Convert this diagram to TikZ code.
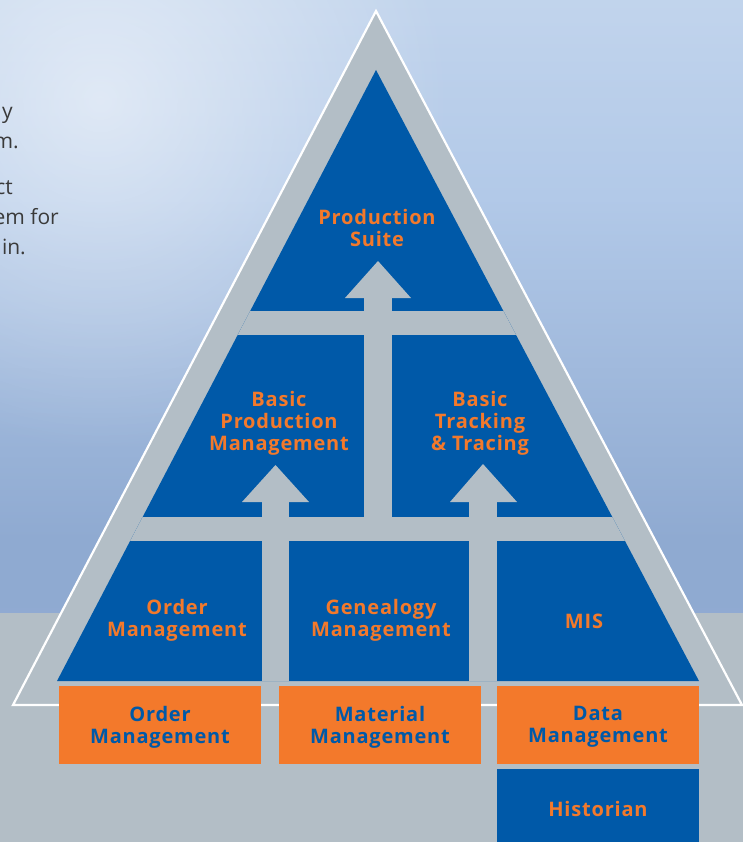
\documentclass[tikz,border=0pt]{standalone}
\usepackage{fontspec}
\setmainfont{Open Sans}
\newfontfamily\lblfont[LetterSpace=4]{Open Sans}
\usetikzlibrary{fadings}
\definecolor{tblue}{HTML}{0059A8}
\definecolor{torange}{HTML}{F3792B}
\definecolor{tgrey}{HTML}{B3BEC6}
\definecolor{ttext}{HTML}{3A3A3A}
\definecolor{skyA}{HTML}{D9E5F3}
\definecolor{skyB}{HTML}{B2C9E8}
\definecolor{skyC}{HTML}{8FAAD1}
\definecolor{skyD}{HTML}{91ABD3}
\definecolor{skyE}{HTML}{A6C0E2}
\pgfdeclareverticalshading{skyshade}{100bp}{color(0bp)=(skyE); color(9bp)=(skyD); color(31bp)=(skyC); color(59bp)=(skyB); color(100bp)=(skyA)}
\tikzfading[name=glow, inner color=transparent!45, outer color=transparent!100]
\tikzset{
  lblfnt/.style={font=\lblfont\bfseries\fontsize{20}{22}\selectfont},
  tierlbl/.style={lblfnt, text=torange, align=center, inner sep=0pt},
  boxtxt/.style={lblfnt, text=tblue, align=center, inner sep=0pt},
  obox/.style={fill=torange, minimum width=202pt, minimum height=78pt, inner sep=0pt},
  histbox/.style={lblfnt, fill=tblue, text=torange, align=center, minimum width=202pt, minimum height=80pt, inner sep=0pt},
  sidetxt/.style={text=ttext, font=\fontsize{21}{30}\selectfont, inner sep=0pt, anchor=base east}
}
\begin{document}
\begin{tikzpicture}[x=1pt,y=-1pt]
\useasboundingbox (0,0) rectangle (743,842);
\begin{scope}
\clip (0,0) rectangle (743,842);
% sky
\shade[shading=skyshade] (0,0) rectangle (743,613);
\fill[white, path fading=glow] (-250,-250) rectangle (450,450);
% ground
\fill[tgrey] (0,613) rectangle (743,842);
% side text fragments
\node[sidetxt] (t1) at (13,119) {y};
\node[sidetxt] (t2) at (19,149) {m.};
\node[sidetxt] (t3) at (13,195) {ct};
\node[sidetxt] (t4) at (59,225) {em for};
\node[sidetxt] (t5) at (26,254) {in.};
% outer triangle
\filldraw[fill=tgrey, draw=white, line width=2.2pt, line join=miter] (376,11) -- (742,705) -- (13,705) -- cycle;
% inner triangle
\fill[tblue] (376,70) -- (699,681) -- (57,681) -- cycle;
\begin{scope}
\clip (376,70) -- (699,681) -- (57,681) -- cycle;
\fill[tgrey] (0,311) rectangle (743,335);
\fill[tgrey] (0,517) rectangle (743,541);
\fill[tgrey] (364,298) rectangle (392,541);
\fill[tgrey] (262,502) rectangle (289,700);
\fill[tgrey] (469,502) rectangle (497,700);
\end{scope}
% arrow heads
\fill[tgrey] (345,298) -- (378,261) -- (411,298) -- cycle;
\fill[tgrey] (242,502) -- (275.5,465) -- (309,502) -- cycle;
\fill[tgrey] (450,502) -- (483,464) -- (517,502) -- cycle;
% tier labels
\node[tierlbl] (ps) at (377,228) {Production\\Suite};
\node[tierlbl] (bpm) at (279,423) {Basic\\Production\\Management};
\node[tierlbl] (btt) at (480,423) {Basic\\Tracking\\\& Tracing};
\node[tierlbl] (om) at (177,620) {Order\\Management};
\node[tierlbl] (gm) at (381,620) {Genealogy\\Management};
\node[tierlbl] (mis) at (584,621) {MIS};
% orange boxes
\node[obox] (ob1) at (160,725) {};
\node[obox] (ob2) at (380,725) {};
\node[obox] (ob3) at (598,725) {};
\node[boxtxt] (om2) at (160,727) {Order\\Management};
\node[boxtxt] (mm) at (380,727) {Material\\Management};
\node[boxtxt] (dm) at (598,727) {Data\\Management};
\node[histbox] (hist) at (598,809) {Historian};
\end{scope}
\end{tikzpicture}
\end{document}
